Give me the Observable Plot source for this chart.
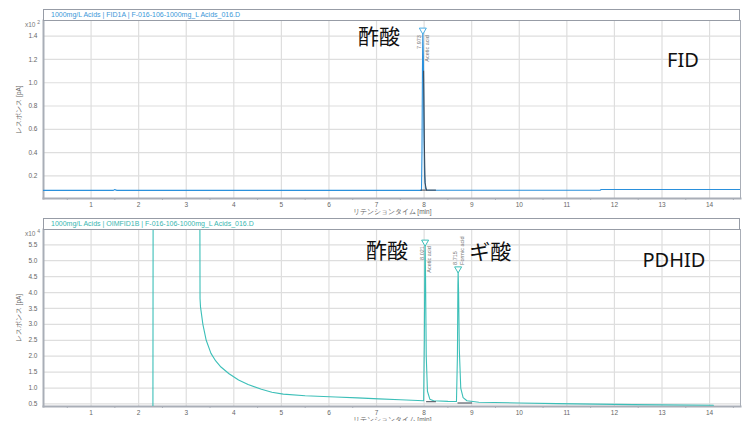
<!DOCTYPE html>
<html><head><meta charset="utf-8">
<script src="https://cdn.jsdelivr.net/npm/d3@7"></script>
<script src="https://cdn.jsdelivr.net/npm/@observablehq/plot@0.6"></script>
<style>
body{margin:0;background:#fff;}
#wrap{position:relative;width:746px;height:421px;overflow:hidden;font-family:"Liberation Sans",Arial,sans-serif;}
#wrap svg{position:absolute;left:0;}
.hdr{position:absolute;left:43px;width:697px;height:12px;border:1.5px solid #979ca6;box-sizing:border-box;background:#fff;font-size:7px;line-height:9px;padding-left:7px;white-space:nowrap;}
.exp{position:absolute;left:25px;font-size:6.5px;color:#777;}
.exp sup{font-size:5px;vertical-align:3px;}
</style>
</head><body>
<div id="wrap"></div>
<script>
// ---- data ----
const xTickLabels = [1,2,3,4,5,6,7,8,9,10,11,12,13,14];
const xMinorTicks = [0.5,1.5,2.5,3.5,4.5,5.5,6.5,7.5,8.5,9.5,10.5,11.5,12.5,13.5,14.5];
const fidYTicks = [0.2,0.4,0.6,0.8,1.0,1.2,1.4];
const pdYTicks = [0.5,1.0,1.5,2.0,2.5,3.0,3.5,4.0,4.5,5.0,5.5];

const fidTime  = [0.00, 1.47, 1.50, 1.52, 1.55, 7.945, 7.955, 7.965, 7.973, 7.985, 7.995, 8.01, 8.03, 8.06, 11.70, 11.72, 14.65];
const fidValue = [0.075,0.075,0.082,0.077,0.075,0.075, 0.40, 1.10, 1.435, 1.20, 0.60, 0.20, 0.09, 0.076, 0.076, 0.082, 0.082];
const fidEdgeTime  = [7.99, 8.005, 8.02, 8.05];
const fidEdgeValue = [1.10, 0.50, 0.14, 0.077];
const fidIntTime  = [7.93, 8.24];
const fidIntValue = [0.077, 0.077];

const pdTime  = [2.30, 2.305, 3.285, 3.29, 3.30, 3.35, 3.42, 3.52, 3.62, 3.73, 3.90, 4.10, 4.30, 4.58, 4.80, 5.04, 5.50, 6.14, 6.60, 7.05, 7.50, 7.99, 8.005, 8.015, 8.021, 8.03, 8.045, 8.07, 8.12, 8.20, 8.50, 8.68, 8.70, 8.71, 8.715, 8.725, 8.74, 8.77, 8.82, 8.90, 9.15, 10.0, 10.8, 12.4, 14.08];
const pdValue = [0.40, 8.0, 8.0, 3.81, 3.55, 3.00, 2.50, 2.09, 1.85, 1.66, 1.45, 1.25, 1.11, 0.96, 0.87, 0.81, 0.76, 0.72, 0.69, 0.66, 0.63, 0.60, 2.50, 5.00, 5.52, 4.50, 2.00, 0.90, 0.65, 0.60, 0.58, 0.575, 2.00, 4.20, 4.68, 4.00, 2.20, 1.00, 0.70, 0.60, 0.555, 0.53, 0.51, 0.48, 0.46];
const pdInt1Time = [8.05, 8.24], pdInt1Value = [0.57, 0.57];
const pdInt2Time = [8.71, 9.00], pdInt2Value = [0.53, 0.53];

const fidPeakT = [7.973], fidPeakV = [1.435], fidPeakRT = ["7.973"], fidPeakName = ["Acetic acid"];
const pdPeakT = [8.021, 8.715], pdPeakV = [5.52, 4.68], pdPeakRT = ["8.021", "8.715"], pdPeakName = ["Acetic acid", "Formic acid"];

const fidNotes = ["酢酸"], fidNoteT = [7.05], fidNoteV = [1.393];
const fidDet = ["FID"], fidDetT = [13.44], fidDetV = [1.19];
const pdNotes = ["酢酸", "ギ酸"], pdNoteT = [7.22, 9.39], pdNoteV = [5.31, 5.28];
const pdDet = ["PDHID"], pdDetT = [13.25], pdDetV = [5.0];

const rows = (ts, vs) => ts.map((t, i) => ({t, v: vs[i]}));
const peaks = (ts, vs, rts, names) => ts.map((t, i) => ({t, v: vs[i], label: rts[i] + "\n" + names[i]}));
const notes = (txt, ts, vs) => txt.map((s, i) => ({s, t: ts[i], v: vs[i]}));

const axisColor = "#a9aeb7", gridColor = "#dedede";
const fmt = d3.format(".1f");

function panel({height, marginTop, marginBottom, yDomain, yTicks, trace, traceColor, markColor, extras, pk, pkMarks, nt, det}) {
  return Plot.plot({
    width: 746, height, marginTop, marginBottom, marginLeft: 43, marginRight: 6,
    style: {fontFamily: "Liberation Sans, Arial, sans-serif", fontSize: "6.5px", color: "#666", background: "transparent"},
    x: {domain: [0, 14.65]},
    y: {domain: yDomain},
    marks: [
      Plot.gridX(xTickLabels, {stroke: gridColor, strokeOpacity: 1, strokeWidth: 1.2}),
      Plot.gridY(yTicks, {stroke: gridColor, strokeOpacity: 1, strokeWidth: 1.2}),
      Plot.axisX(xMinorTicks, {tickSize: 2, stroke: axisColor, text: null, label: null}),
      Plot.axisX(xTickLabels, {tickSize: 0, tickPadding: 4, fill: "#666", label: "リテンションタイム [min]", labelAnchor: "center", labelArrow: "none", labelOffset: 15}),
      Plot.axisY(yTicks, {tickSize: 0, tickPadding: 6, fill: "#666", tickFormat: fmt, label: "レスポンス [pA]", labelAnchor: "center", labelArrow: "none", labelOffset: 27}),
      Plot.frame({stroke: axisColor, strokeWidth: 1}),
      Plot.frame({anchor: "left", stroke: axisColor, strokeWidth: 2}),
      Plot.frame({anchor: "bottom", stroke: axisColor, strokeWidth: 2}),
      Plot.line(trace, {x: "t", y: "v", stroke: traceColor, strokeWidth: 1.1, clip: true}),
      ...extras.map(e => Plot.line(e, {x: "t", y: "v", stroke: "#3d4550", strokeWidth: 1, clip: true})),
      Plot.dot(pk, {x: "t", y: "v", symbol: "triangle", rotate: 180, r: 2.6, dy: -2, fill: "#fff", stroke: markColor, strokeWidth: 1}),
      ...pkMarks,
      Plot.text(nt, {x: "t", y: "v", text: "s", fontSize: 21, fill: "#111", fontFamily: "Noto Sans CJK JP"}),
      Plot.text(det, {x: "t", y: "v", text: "s", fontSize: 20, fill: "#111", fontFamily: "Noto Sans"})
    ]
  });
}

const lblOpts = {x: "t", y: "v", text: "label", rotate: -90, fontSize: 5.5, lineHeight: 1.4, lineAnchor: "middle", fill: "#777"};

const fidPk = peaks(fidPeakT, fidPeakV, fidPeakRT, fidPeakName);
const pdPk = peaks(pdPeakT, pdPeakV, pdPeakRT, pdPeakName);

const topChart = panel({
  height: 216, marginTop: 20, marginBottom: 18, yDomain: [0.005, 1.535], yTicks: fidYTicks,
  trace: rows(fidTime, fidValue), traceColor: "#2a90dc", markColor: "#4aaee6",
  extras: [rows(fidEdgeTime, fidEdgeValue), rows(fidIntTime, fidIntValue)],
  pk: fidPk,
  pkMarks: [Plot.text(fidPk, {...lblOpts, textAnchor: "end", dy: 3})],
  nt: notes(fidNotes, fidNoteT, fidNoteV), det: notes(fidDet, fidDetT, fidDetV)
});

const botChart = panel({
  height: 205, marginTop: 13, marginBottom: 15, yDomain: [0.42, 5.98], yTicks: pdYTicks,
  trace: rows(pdTime, pdValue), traceColor: "#3cbfb8", markColor: "#3cbfb8",
  extras: [rows(pdInt1Time, pdInt1Value), rows(pdInt2Time, pdInt2Value)],
  pk: pdPk,
  pkMarks: [
    Plot.text(pdPk.slice(0, 1), {...lblOpts, textAnchor: "end", dy: 2}),
    Plot.text(pdPk.slice(1), {...lblOpts, textAnchor: "start", dy: -6})
  ],
  nt: notes(pdNotes, pdNoteT, pdNoteV), det: notes(pdDet, pdDetT, pdDetV)
});

const wrap = document.getElementById("wrap");
topChart.style.top = "0px";
botChart.style.top = "216px";
wrap.appendChild(topChart);
wrap.appendChild(botChart);

function addHdr(top, text, color) {
  const d = document.createElement("div");
  d.className = "hdr"; d.style.top = top + "px"; d.style.color = color; d.textContent = text;
  wrap.appendChild(d);
}
function addExp(top, p) {
  const d = document.createElement("div");
  d.className = "exp"; d.style.top = top + "px";
  d.innerHTML = "x10 <sup>" + p + "</sup>";
  wrap.appendChild(d);
}
addHdr(8.5, "1000mg/L Acids | FID1A | F-016-106-1000mg_L Acids_016.D", "#3b97d8");
addHdr(218, "1000mg/L Acids | OIMFID1B | F-016-106-1000mg_L Acids_016.D", "#38b6b0");
addExp(19, 2);
addExp(228, 4);
</script>
</body></html>
